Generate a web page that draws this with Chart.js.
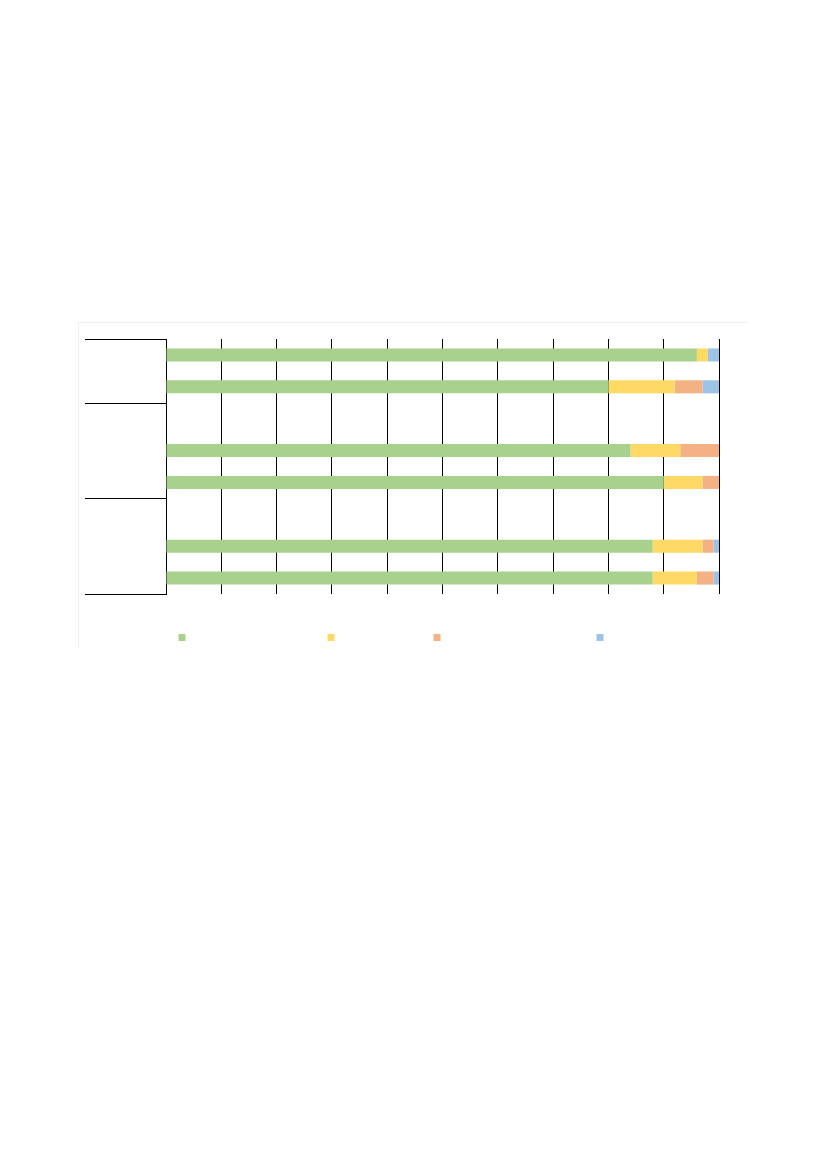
<!DOCTYPE html>
<html>
<head>
<meta charset="utf-8">
<script src="https://cdn.jsdelivr.net/npm/chart.js@4/dist/chart.umd.min.js"></script>
<style>
  body { margin: 0; background: #fff; width: 827px; height: 1169px; position: relative; }
  #box { position: absolute; left: 78px; top: 322px; width: 669px; height: 326px;
         border-top: 1px solid #edf1f6; border-left: 1px solid #edf1f6; box-sizing: border-box; }
  #box canvas { display: block; }
</style>
</head>
<body>
<div id="box"><canvas id="c" width="669" height="326"></canvas></div>
<script>
// rows top to bottom, empty rows separate the groups
var rows = ['', '', '', '', '', '', '', ''];
var groupSizes = [2, 3, 3];
var seriesNames = ['', '', '', ''];
var green  = [96, 80, null, 84, 90, null, 88, 88];
var yellow = [2, 12, null, 9, 7, null, 9, 8];
var orange = [0, 5, null, 7, 3, null, 2, 3];
var blue   = [2, 3, null, 0, 0, null, 1, 1];
var colors = ['#a9d18e', '#ffd966', '#f4b183', '#9dc3e6'];

var groupLines = {
	id: 'groupLines',
	afterDraw: function(chart) {
		var ctx = chart.ctx, y = chart.scales.y, area = chart.chartArea;
		ctx.save();
		ctx.strokeStyle = '#000';
		ctx.lineWidth = 1;
		var idx = -0.5;
		var bounds = [idx];
		groupSizes.forEach(function(s) { idx += s; bounds.push(idx); });
		bounds.forEach(function(b) {
			var py = Math.round(y.getPixelForValue(b)) + 0.5;
			ctx.beginPath();
			ctx.moveTo(area.left - 81, py);
			ctx.lineTo(area.left, py);
			ctx.stroke();
		});
		// legend squares
		var lx = [103, 252, 358, 521];
		chart.data.datasets.forEach(function(ds, i) {
			ctx.fillStyle = ds.backgroundColor;
			ctx.fillRect(lx[i] - 3.5, 311, 7, 7);
		});
		ctx.restore();
	}
};

var ctx = document.getElementById('c');
var chart = new Chart(ctx, {
	type: 'bar',
	data: {
		labels: rows,
		datasets: [
			{ label: seriesNames[0], data: green,  backgroundColor: colors[0] },
			{ label: seriesNames[1], data: yellow, backgroundColor: colors[1] },
			{ label: seriesNames[2], data: orange, backgroundColor: colors[2] },
			{ label: seriesNames[3], data: blue,   backgroundColor: colors[3] }
		]
	},
	options: {
		indexAxis: 'y',
		responsive: false,
		animation: false,
		layout: { padding: { left: 87, right: 29, top: 16, bottom: 55 } },
		datasets: { bar: { categoryPercentage: 1, barPercentage: 0.41, borderSkipped: false, borderWidth: 0 } },
		plugins: { legend: { display: false }, tooltip: { enabled: false } },
		scales: {
			x: {
				stacked: true, min: 0, max: 100,
				ticks: { display: false, stepSize: 10 },
				grid: { color: '#000', lineWidth: 1, drawTicks: false },
				border: { display: false }
			},
			y: {
				stacked: true,
				ticks: { display: false },
				grid: { display: false, drawTicks: false },
				border: { display: true, color: '#000', width: 1 }
			}
		}
	},
	plugins: [groupLines]
});
</script>
</body>
</html>
